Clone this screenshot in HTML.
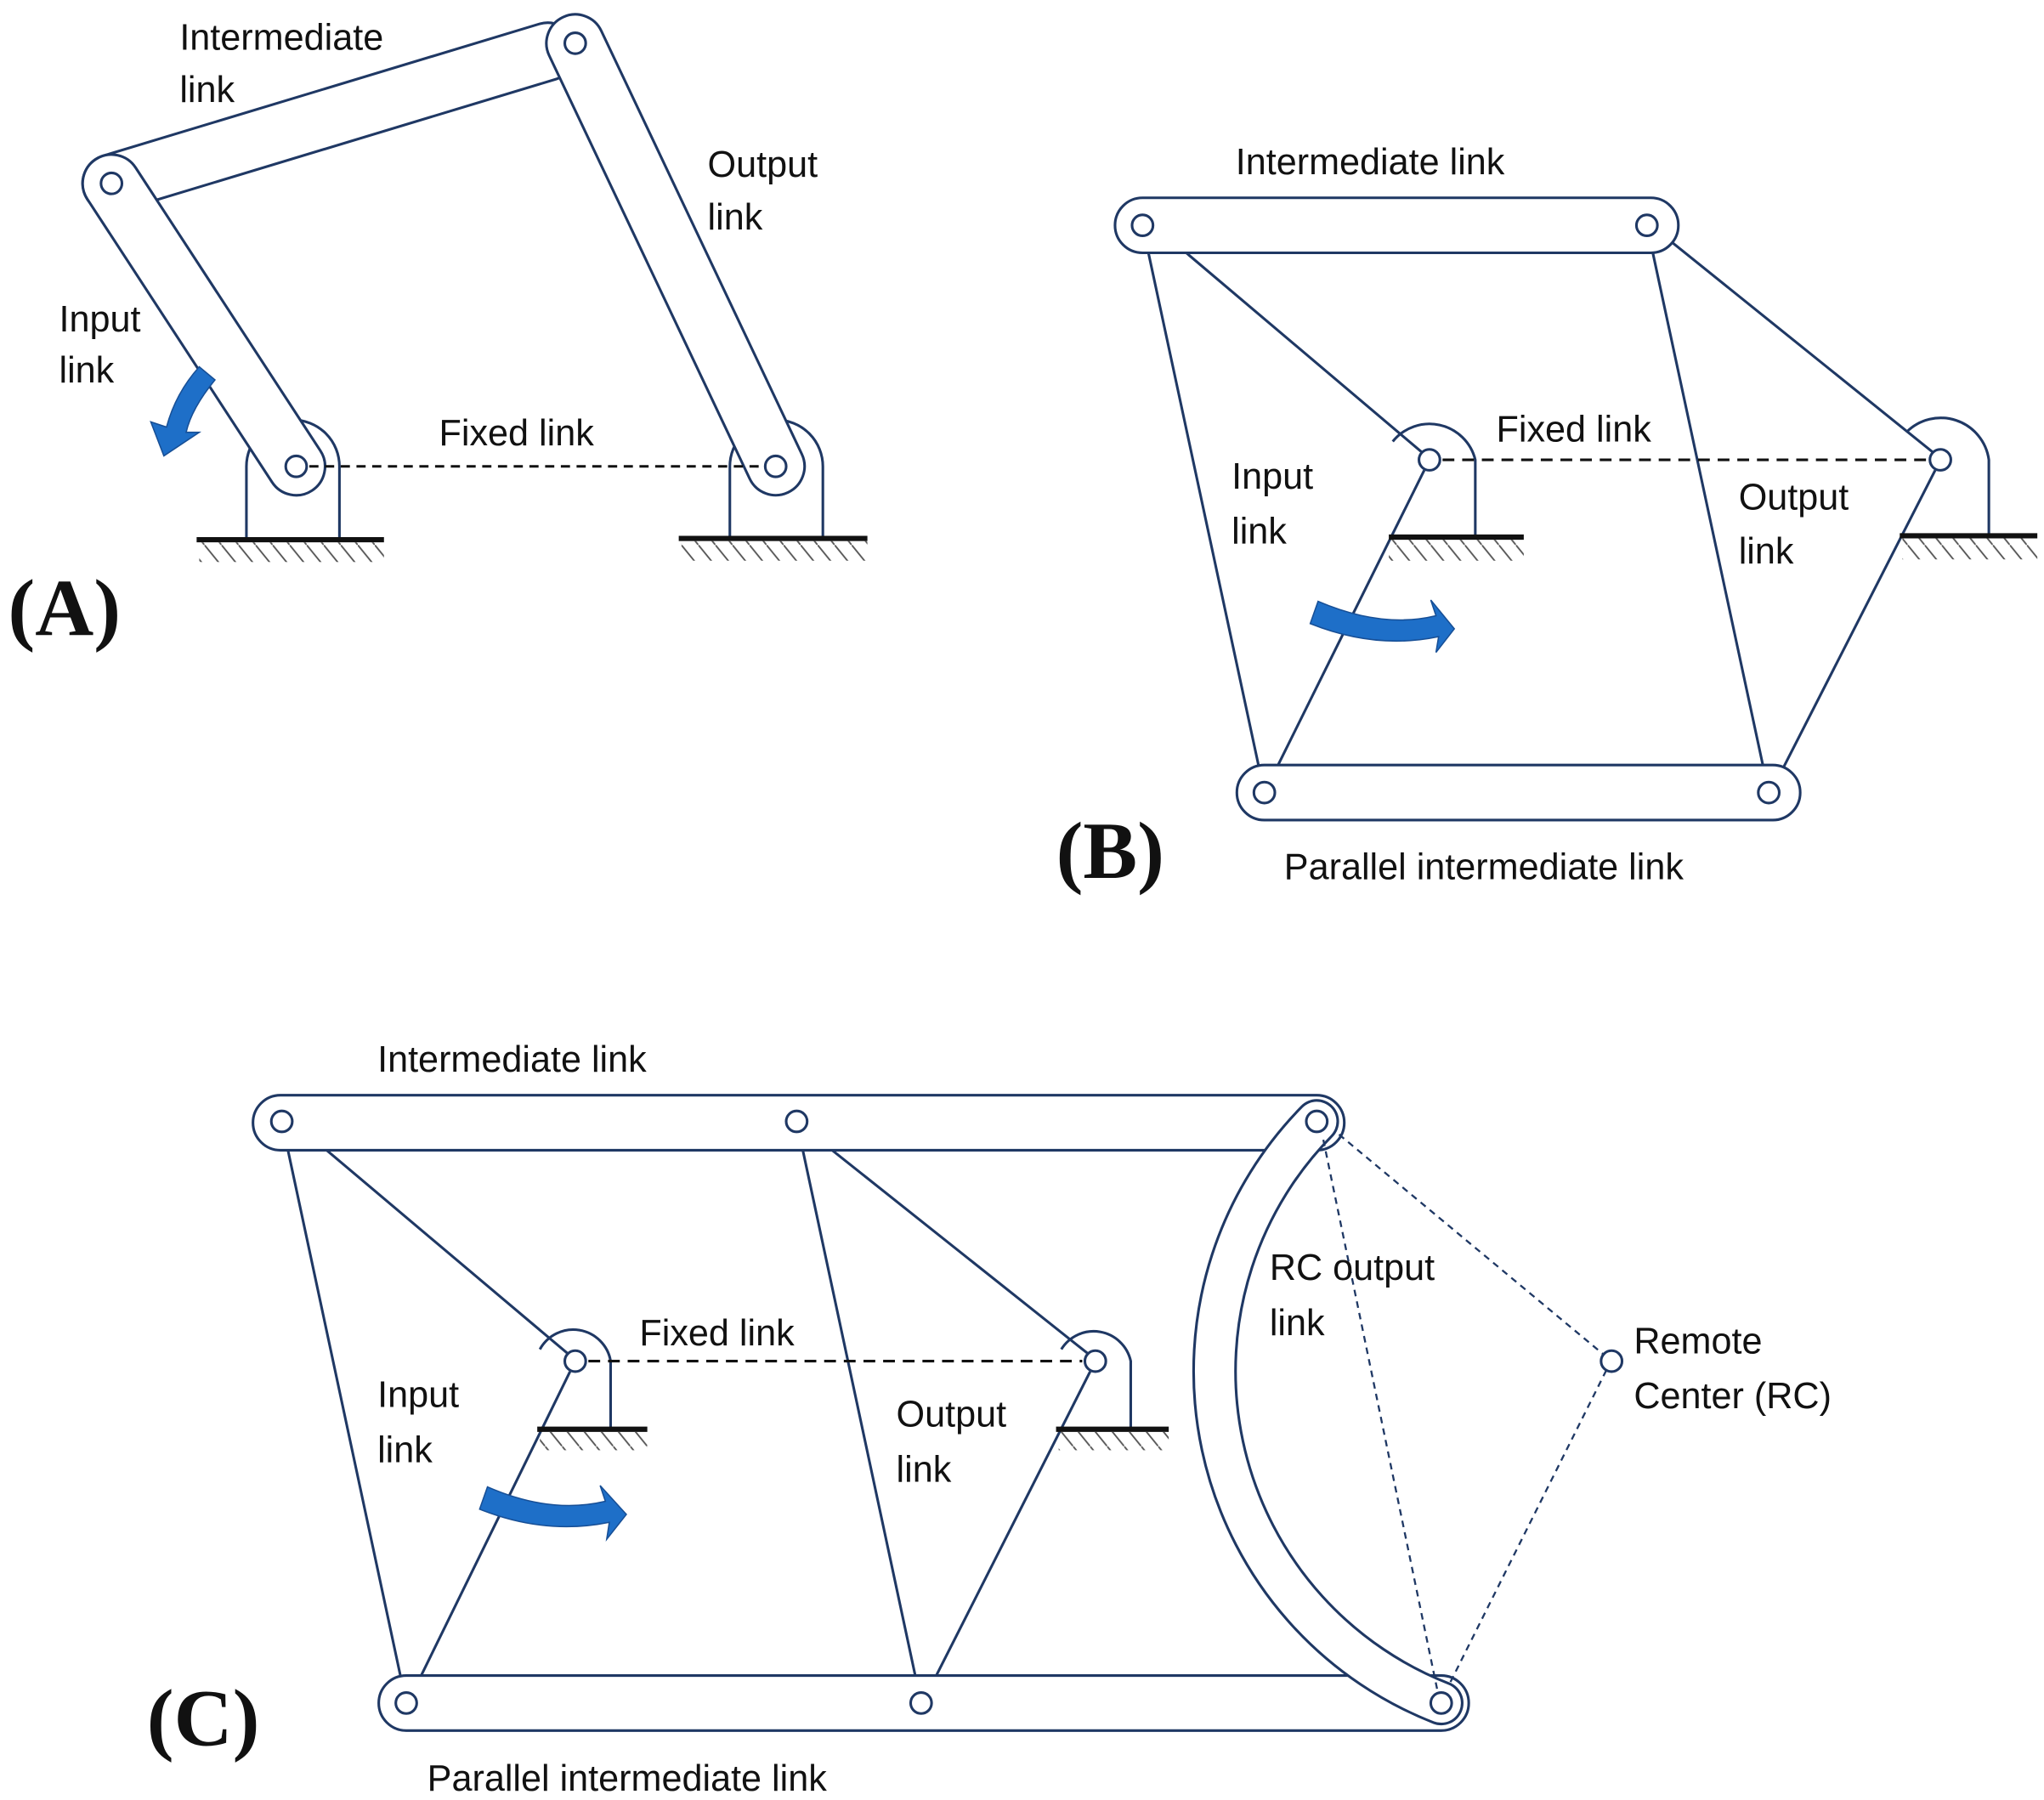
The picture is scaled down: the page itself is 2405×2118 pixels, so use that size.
<!DOCTYPE html>
<html><head><meta charset="utf-8"><style>
html,body{margin:0;padding:0;background:#fff}
svg{display:block}
text{font-family:"Liberation Sans",sans-serif;font-size:28px;fill:#111}
.big{font-family:"Liberation Serif",serif;font-weight:bold;font-size:62px}
</style></head><body>
<svg width="2405" height="2118" viewBox="0 0 1560 1374" xmlns="http://www.w3.org/2000/svg">
<defs>
<pattern id="h" width="13" height="16" patternUnits="userSpaceOnUse">
<line x1="0" y1="0" x2="13" y2="16" stroke="#555" stroke-width="1.2"/>
</pattern>
</defs>
<g fill="none" stroke="#1f3864" stroke-width="2">

<!-- ===== Panel A ===== -->
<path d="M188,412 L188,356 A35,35 0 0 1 259,356 L259,412" fill="#fff"/>
<path d="M557,412 L557,356 A35,35 0 0 1 628,356 L628,412" fill="#fff"/>
<rect x="-22" y="-22" width="391.8" height="44" rx="22" fill="#fff" transform="translate(85,140) rotate(-16.82)"/>
<rect x="-22" y="-22" width="302" height="44" rx="22" fill="#fff" transform="translate(85,140) rotate(56.87)"/>
<rect x="-22" y="-22" width="401.4" height="44" rx="22" fill="#fff" transform="translate(439,33) rotate(64.65)"/>
<circle cx="85" cy="140" r="8" fill="#fff"/>
<circle cx="439" cy="33" r="8" fill="#fff"/>
<circle cx="226" cy="356" r="8" fill="#fff"/>
<circle cx="592" cy="356" r="8" fill="#fff"/>
<line x1="236" y1="356" x2="582" y2="356" stroke="#111" stroke-dasharray="7,5"/>
<line x1="150" y1="412" x2="293" y2="412" stroke="#111" stroke-width="4"/>
<line x1="518" y1="411" x2="662" y2="411" stroke="#111" stroke-width="4"/>
<rect x="152" y="414" width="141" height="15" fill="url(#h)" stroke="none"/>
<rect x="520" y="413" width="142" height="15" fill="url(#h)" stroke="none"/>

<!-- ===== Panel B ===== -->
<path d="M1063,337 A36,36 0 0 1 1126,351 L1126,410" fill="#fff"/>
<path d="M1455,330 A37,37 0 0 1 1518,351 L1518,408" fill="#fff"/>
<line x1="872" y1="172" x2="965" y2="605"/>
<line x1="890" y1="180" x2="1085" y2="345"/>
<line x1="1087" y1="359" x2="970" y2="595"/>
<line x1="1257" y1="172" x2="1350" y2="605"/>
<line x1="1265" y1="176" x2="1475" y2="345"/>
<line x1="1477" y1="359" x2="1355" y2="598"/>
<rect x="851" y="151" width="430" height="42" rx="21" fill="#fff"/>
<rect x="944" y="584" width="430" height="42" rx="21" fill="#fff"/>
<circle cx="872" cy="172" r="8" fill="#fff"/>
<circle cx="1257" cy="172" r="8" fill="#fff"/>
<circle cx="965" cy="605" r="8" fill="#fff"/>
<circle cx="1350" cy="605" r="8" fill="#fff"/>
<circle cx="1091" cy="351" r="8" fill="#fff"/>
<circle cx="1481" cy="351" r="8" fill="#fff"/>
<line x1="1101" y1="351" x2="1471" y2="351" stroke="#111" stroke-dasharray="9,6"/>
<line x1="1060" y1="410" x2="1163" y2="410" stroke="#111" stroke-width="4"/>
<line x1="1450" y1="409" x2="1555" y2="409" stroke="#111" stroke-width="4"/>
<rect x="1060" y="412" width="103" height="16" fill="url(#h)" stroke="none"/>
<rect x="1452" y="411" width="103" height="16" fill="url(#h)" stroke="none"/>

<!-- ===== Panel C ===== -->
<path d="M412,1030 A29,29 0 0 1 466,1039 L466,1091" fill="#fff"/>
<path d="M810,1030 A29,29 0 0 1 863,1039 L863,1091" fill="#fff"/>
<line x1="215" y1="856" x2="310" y2="1300"/>
<line x1="235" y1="866" x2="433" y2="1033"/>
<line x1="435" y1="1047" x2="316" y2="1290"/>
<line x1="608" y1="856" x2="703" y2="1300"/>
<line x1="620" y1="866" x2="830" y2="1033"/>
<line x1="832" y1="1047" x2="708" y2="1292"/>
<rect x="193" y="836" width="833" height="42" rx="21" fill="#fff"/>
<rect x="289" y="1279" width="832" height="42" rx="21" fill="#fff"/>
<path d="M1005,856 A272,272 0 0 0 1100,1300" stroke-width="34" stroke-linecap="round"/>
<path d="M1005,856 A272,272 0 0 0 1100,1300" stroke="#fff" stroke-width="30" stroke-linecap="round"/>
<line x1="1010" y1="870" x2="1097" y2="1290" stroke-width="1.5" stroke-dasharray="5,4"/>
<line x1="1022" y1="866" x2="1224" y2="1034" stroke-width="1.5" stroke-dasharray="5,4"/>
<line x1="1226" y1="1046" x2="1106" y2="1286" stroke-width="1.5" stroke-dasharray="5,4"/>
<circle cx="215" cy="856" r="8" fill="#fff"/>
<circle cx="608" cy="856" r="8" fill="#fff"/>
<circle cx="1005" cy="856" r="8" fill="#fff"/>
<circle cx="310" cy="1300" r="8" fill="#fff"/>
<circle cx="703" cy="1300" r="8" fill="#fff"/>
<circle cx="1100" cy="1300" r="8" fill="#fff"/>
<circle cx="439" cy="1039" r="8" fill="#fff"/>
<circle cx="836" cy="1039" r="8" fill="#fff"/>
<circle cx="1230" cy="1039" r="8" fill="#fff"/>
<line x1="449" y1="1039" x2="826" y2="1039" stroke="#111" stroke-dasharray="9,6"/>
<line x1="410" y1="1091" x2="494" y2="1091" stroke="#111" stroke-width="4"/>
<line x1="806" y1="1091" x2="892" y2="1091" stroke="#111" stroke-width="4"/>
<rect x="412" y="1093" width="82" height="14" fill="url(#h)" stroke="none"/>
<rect x="808" y="1093" width="84" height="14" fill="url(#h)" stroke="none"/>
</g>

<!-- Blue arrows -->
<g fill="#1e6fc8" stroke="#174f96" stroke-width="1">
<path d="M152,280 L164,290 Q146,312 142,330 L152,330 L125,348 L115,322 L127,326 Q134,300 152,280 Z"/>
<path d="M1006,459 Q1055,480 1096,470 L1092,458 L1110,480 L1096,498 L1098,486 Q1050,496 1000,476 Z"/>
<path d="M372,1135 Q420,1156 462,1146 L458,1134 L478,1156 L463,1175 L465,1162 Q416,1172 366,1152 Z"/>
</g>

<!-- Labels -->
<text x="137" y="38">Intermediate</text>
<text x="137" y="78">link</text>
<text x="540" y="135">Output</text>
<text x="540" y="175">link</text>
<text x="45" y="253">Input</text>
<text x="45" y="292">link</text>
<text x="335" y="340">Fixed link</text>
<text class="big" x="6" y="485">(A)</text>

<text x="943" y="133">Intermediate link</text>
<text x="1142" y="337">Fixed link</text>
<text x="940" y="373">Input</text>
<text x="940" y="415">link</text>
<text x="1327" y="389">Output</text>
<text x="1327" y="430">link</text>
<text x="980" y="671">Parallel intermediate link</text>
<text class="big" x="806" y="670">(B)</text>

<text x="288" y="818">Intermediate link</text>
<text x="488" y="1027">Fixed link</text>
<text x="288" y="1074">Input</text>
<text x="288" y="1116">link</text>
<text x="684" y="1089">Output</text>
<text x="684" y="1131">link</text>
<text x="969" y="977">RC output</text>
<text x="969" y="1019">link</text>
<text x="1247" y="1033">Remote</text>
<text x="1247" y="1075">Center (RC)</text>
<text x="326" y="1367">Parallel intermediate link</text>
<text class="big" x="112" y="1332">(C)</text>
</svg>
</body></html>
